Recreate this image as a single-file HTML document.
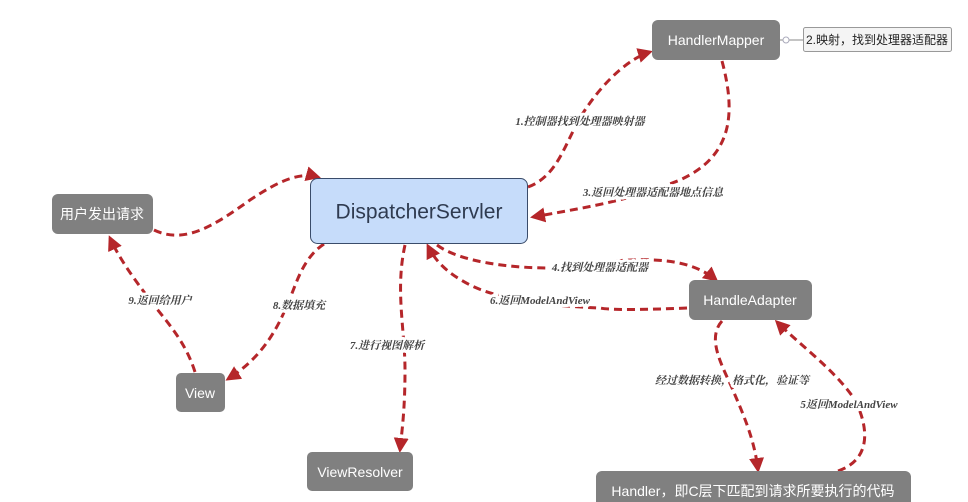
<!DOCTYPE html>
<html><head><meta charset="utf-8"><style>
html,body{margin:0;padding:0;background:#fff;width:968px;height:502px;overflow:hidden}
svg text{font-family:"Liberation Sans","Noto Sans CJK SC",sans-serif}
.n{fill:#808080}
.nt{fill:#fff;font-size:14px;text-anchor:middle;dominant-baseline:central}
.e{fill:none;stroke:#b5262a;stroke-width:3;stroke-dasharray:8,5}
.l{font-family:"Liberation Serif","Noto Serif CJK SC",serif !important;font-style:italic;font-weight:bold;font-size:11px;fill:#444;text-anchor:middle;stroke:#fff;stroke-width:6px;paint-order:stroke;stroke-linejoin:round}
</style></head><body>
<svg width="968" height="502" viewBox="0 0 968 502" xmlns="http://www.w3.org/2000/svg">
<defs><marker id="a" viewBox="0 0 10 10" refX="8" refY="5" markerWidth="5" markerHeight="5" orient="auto"><path d="M0,0L10,5L0,10z" fill="#b5262a"/></marker></defs>
<path class="e" marker-end="url(#a)" d="M528,187 C560,175 565,140 585,110 C605,80 630,58 650,52"/>
<path class="e" marker-end="url(#a)" d="M722,61 C735,110 735,155 680,180 C630,200 600,205 533,217"/>
<path class="e" marker-end="url(#a)" d="M154,230 C185,245 215,225 250,200 C280,180 300,172 318,177"/>
<path class="e" marker-end="url(#a)" d="M195,372 C185,340 165,320 150,300 C135,280 120,260 110,238"/>
<path class="e" marker-end="url(#a)" d="M324,244 C300,260 295,290 285,310 C270,345 250,365 228,379"/>
<path class="e" marker-end="url(#a)" d="M405,245 C395,290 405,330 405,370 C405,410 402,430 400,450"/>
<path class="e" marker-end="url(#a)" d="M687,308 C640,310 610,310 600,308 C550,306 500,300 470,285 C445,272 435,260 428,246"/>
<path class="e" marker-end="url(#a)" d="M437,245 C460,262 510,268 550,268 C620,260 680,250 716,280"/>
<path class="e" marker-end="url(#a)" d="M722,321 C705,340 725,370 735,395 C748,425 755,445 758,470"/>
<path class="e" marker-end="url(#a)" d="M838,471 C870,460 870,430 855,400 C835,370 800,345 777,322"/>
<line x1="780" y1="40" x2="803" y2="40" stroke="#888" stroke-width="1"/>
<circle cx="786" cy="40" r="3" fill="#fff" stroke="#aab" stroke-width="1"/>
<text class="l" x="580" y="125">1.控制器找到处理器映射器</text>
<text class="l" x="653" y="196">3.返回处理器适配器地点信息</text>
<text class="l" x="600" y="271">4.找到处理器适配器</text>
<text class="l" x="540" y="304">6.返回ModelAndView</text>
<text class="l" x="160" y="304">9.返回给用户</text>
<text class="l" x="299" y="309">8.数据填充</text>
<text class="l" x="387" y="349">7.进行视图解析</text>
<text class="l" x="732" y="384">经过数据转换，格式化，验证等</text>
<text class="l" x="849" y="408">5返回ModelAndView</text>
<rect class="n" x="652" y="20" width="128" height="40" rx="6"/>
<text class="nt" x="716" y="40">HandlerMapper</text>
<rect x="803.5" y="27.5" width="148" height="24" rx="2" fill="#f4f4f4" stroke="#999"/>
<text x="877" y="40" font-size="12" text-anchor="middle" dominant-baseline="central" fill="#222">2.映射，找到处理器适配器</text>
<rect x="310.5" y="178.5" width="217" height="65" rx="7" fill="#c6dcfa" stroke="#3a4c6a"/>
<text x="419" y="212" font-size="21" text-anchor="middle" dominant-baseline="central" fill="#2f3b50">DispatcherServler</text>
<rect class="n" x="52" y="194" width="101" height="40" rx="6"/>
<text class="nt" x="102" y="214">用户发出请求</text>
<rect class="n" x="176" y="373" width="49" height="39" rx="5"/>
<text class="nt" x="200" y="393">View</text>
<rect class="n" x="307" y="452" width="106" height="39" rx="5"/>
<text class="nt" x="360" y="472">ViewResolver</text>
<rect class="n" x="689" y="280" width="123" height="40" rx="6"/>
<text class="nt" x="750" y="300">HandleAdapter</text>
<rect class="n" x="596" y="471" width="315" height="40" rx="6"/>
<text class="nt" x="753" y="491">Handler，即C层下匹配到请求所要执行的代码</text>
</svg>
</body></html>
